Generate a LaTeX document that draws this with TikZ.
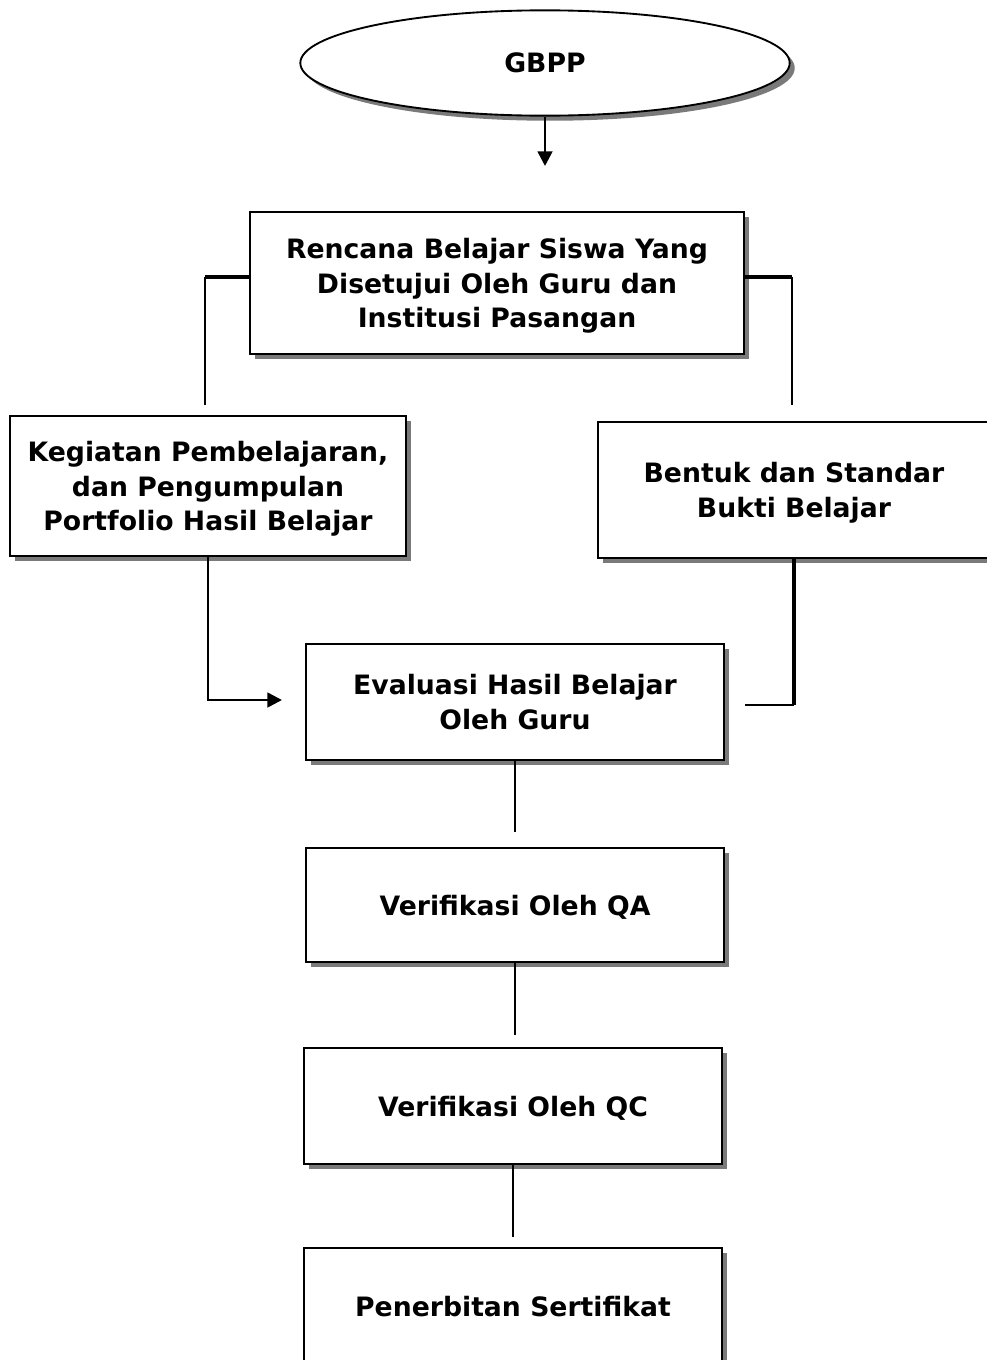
\documentclass[tikz,border=0pt]{standalone}
\usepackage{fontspec}
\setmainfont{DejaVu Sans}
\usepackage{xcolor}
\usepackage{tikz}
\usetikzlibrary{arrows.meta,positioning,shapes.geometric,shadows}
\definecolor{shadegrey}{HTML}{7A7A7A}
\definecolor{inkblack}{HTML}{000000}
\tikzset{
  % ---- generic blocks -------------------------------------------------
  fnode/.style={
    draw=inkblack, line width=1.4pt, fill=white, align=center,
    font=\fontsize{20}{26}\selectfont\bfseries,
    drop shadow={shadow xshift=3.8pt, shadow yshift=-3.8pt,
                 fill=shadegrey, opacity=1}},
  fbox/.style={fnode, rectangle, inner sep=0pt, text depth=-9pt},
  foval/.style={fnode, ellipse, inner sep=0pt},
  % ---- connections ----------------------------------------------------
  fflow/.style={
    -{Triangle[length=11pt,width=11pt]}, draw=inkblack, line width=2pt},
  fthin/.style={draw=inkblack, line width=1.4pt},
  fthick/.style={draw=inkblack, line width=2.8pt},
}
\begin{document}
\begin{tikzpicture}[x=0.75pt, y=-0.75pt]
\useasboundingbox (0,0) rectangle (986,1360);

% ---------------- top of the chain -----------------------------------
\node[foval, minimum width=367pt, minimum height=79pt] (gbpp)
  at (545,63) {GBPP};
\coordinate (gbppend) at (545,166);

\node[fbox, minimum width=371pt, minimum height=106pt] (plan)
  at (497,283) {Rencana Belajar Siswa Yang\\Disetujui Oleh Guru dan\\Institusi Pasangan};

% ---------------- two branches ---------------------------------------
\node[fbox, minimum width=297pt, minimum height=105pt] (activity)
  at (208,486) {Kegiatan Pembelajaran,\\dan Pengumpulan\\Portfolio Hasil Belajar};

\node[fbox, minimum width=294pt, minimum height=102pt] (standard)
  at (794,490) {Bentuk dan Standar\\Bukti Belajar};

\coordinate (lcorner) at (205,277);
\coordinate (lend) at (205,405);
\coordinate (rcorner) at (792,277);
\coordinate (rend) at (792,405);

% ---------------- evaluation and checks ------------------------------
\node[fbox, minimum width=313pt, minimum height=87pt] (eval)
  at (515,702) {Evaluasi Hasil Belajar\\Oleh Guru};
\node[fbox, minimum width=313pt, minimum height=86pt] (qa)
  at (515,905) {Verifikasi Oleh QA};
\node[fbox, minimum width=314pt, minimum height=87pt] (qc)
  at (513,1106) {Verifikasi Oleh QC};
\node[fbox, minimum width=313pt, minimum height=87pt] (cert)
  at (513,1306) {Penerbitan Sertifikat};

\coordinate (evalin) at (282,700);
\coordinate (rjoin) at (745,705);
\coordinate (evalend) at (516,832);
\coordinate (qaend) at (514,1035);
\coordinate (qcend) at (512,1237);

% ---------------- connectors -----------------------------------------
\draw[fflow] (gbpp.south) -- (gbppend);

\draw[fthick] (plan.west |- lcorner) -- (lcorner);
\draw[fthin] (lcorner) -- (lend);
\draw[fthick] (plan.east |- rcorner) -- (rcorner);
\draw[fthin] (rcorner) -- (rend);

\draw[fflow] (activity.south) -- (activity.south |- evalin) -- (evalin);
\draw[fthick] (standard.south) -- (standard.south |- rjoin);
\draw[fthin] (standard.south |- rjoin) -- (rjoin);

\draw[fthin] (eval.south) -- (eval.south |- evalend);
\draw[fthin] (qa.south) -- (qa.south |- qaend);
\draw[fthin] (qc.south) -- (qc.south |- qcend);

\end{tikzpicture}
\end{document}
